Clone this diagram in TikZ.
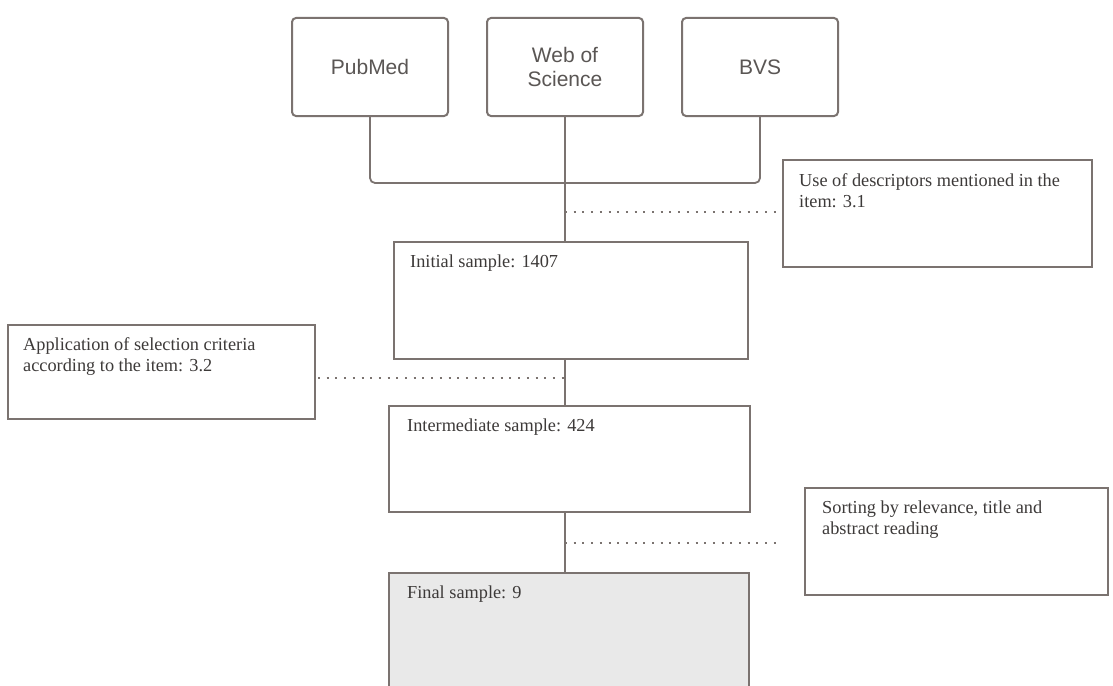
\documentclass[tikz,border=0pt]{standalone}
\usepackage{fontspec}
\setmainfont{Liberation Serif}
\newfontfamily\boxsans{Liberation Sans}
\definecolor{linegray}{HTML}{7B7370}
\definecolor{txtgray}{HTML}{3D3A39}
\definecolor{sansgray}{HTML}{5A5654}
\definecolor{finalfill}{HTML}{E9E9E9}
\begin{document}
\begin{tikzpicture}[x=1pt,y=-1pt,
  dbbox/.style={draw=linegray, line width=2pt, rounded corners=4pt, anchor=north west,
    minimum width=156pt, minimum height=98pt, inner sep=0pt, align=center,
    font=\boxsans\fontsize{21}{24}\selectfont, text=sansgray},
  stepbox/.style={draw=linegray, line width=1.5pt, anchor=north west, inner sep=0pt},
  lab/.style={anchor=north west, inner sep=0pt, xshift=17pt, yshift=-14pt, align=left,
    font=\fontsize{18.3}{21}\selectfont, text=txtgray},
  conn/.style={draw=linegray, line width=1.8pt},
  dotline/.style={draw=linegray, line width=1.8pt, dash pattern=on 2pt off 6.7pt}]
\useasboundingbox (0,0) rectangle (1113,685);
\clip (0,0) rectangle (1113,685);
\fill[white] (0,0) rectangle (1113,685);

% database boxes
\node[dbbox] (pub) at (291,17) {PubMed};
\node[dbbox] (web) at (486,17) {Web of\\Science};
\node[dbbox] (bvs) at (681,17) {BVS};

% step boxes
\node[stepbox, minimum width=309pt, minimum height=107pt,
  label={[lab]north west:Use of descriptors mentioned in the\\item: 3.1}] (desc) at (782,159) {};
\node[stepbox, minimum width=354pt, minimum height=117pt,
  label={[lab]north west:Initial sample: 1407}] (init) at (393,241) {};
\node[stepbox, minimum width=307pt, minimum height=94pt,
  label={[lab, xshift=-1pt, yshift=0.5pt]north west:Application of selection criteria\\according to the item: 3.2}] (appl) at (7,324) {};
\node[stepbox, minimum width=361pt, minimum height=106pt,
  label={[lab, xshift=2pt]north west:Intermediate sample: 424}] (inter) at (388,405) {};
\node[stepbox, minimum width=303pt, minimum height=107pt,
  label={[lab, xshift=1pt]north west:Sorting by relevance, title and\\abstract reading}] (sort) at (804,487) {};
\node[stepbox, fill=finalfill, minimum width=360pt, minimum height=125pt,
  label={[lab, xshift=2pt]north west:Final sample: 9}] (final) at (388,572) {};

% helper coordinates
\coordinate (stem) at (564,183);
\coordinate (dA) at (318,378);
\coordinate (dS) at (780,543);

% connectors
\draw[conn, rounded corners=5pt] (pub.south) |- (stem) -| (bvs.south);
\draw[conn] (web.south) -- (web.south |- init.north);
\draw[conn] (web.south |- init.south) -- (web.south |- inter.north);
\draw[conn] (web.south |- inter.south) -- (web.south |- final.north);

% dotted links
\draw[dotline] (web.south |- 0,212) -- (desc.west |- 0,212);
\draw[dotline] (dA) -- (dA -| web.south);
\draw[dotline] (web.south |- dS) -- (dS);
\end{tikzpicture}
\end{document}
